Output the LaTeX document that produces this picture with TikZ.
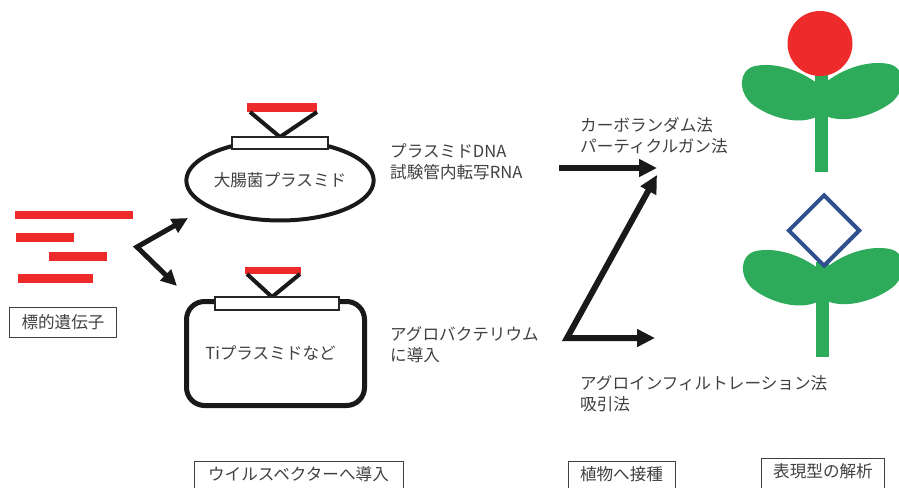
\documentclass[tikz,border=0pt]{standalone}
\usepackage{fontspec}
\setmainfont{Noto Sans CJK JP}
\usetikzlibrary{arrows.meta,shapes.geometric}

\definecolor{insertred}{HTML}{EE2B2B}
\definecolor{leafgreen}{HTML}{2EAB5A}
\definecolor{markblue}{HTML}{2F4F8F}
\definecolor{inktext}{HTML}{404040}

\tikzset{
  every node/.style={font=\fontsize{16.6}{21}\selectfont, text=inktext},
  genebar/.style={fill=insertred, draw=none, inner sep=0pt, outer sep=0pt},
  mcsbox/.style={fill=white, draw=black!85, line width=1.2pt, inner sep=0pt, outer sep=0pt},
  hinge/.style={draw=black!90, line width=4pt, line join=miter},
  stagebox/.style={draw=black!75, line width=0.8pt, inner xsep=12pt, inner ysep=4pt,
    text height=15pt, text depth=16pt, anchor=north},
  labeltext/.style={anchor=west, inner sep=0pt, align=left},
  fork/.style={draw=black!90, line join=miter,
    {Triangle[length=16pt,width=15pt]}-{Triangle[length=16pt,width=15pt]}},
  bigarrow/.style={draw=black!90, line width=6pt, line join=miter,
    -{Triangle[length=18pt,width=17pt]}},
  stem/.style={fill=leafgreen, draw=none},
  leaf/.style={fill=leafgreen, draw=none}
}

\begin{document}
\begin{tikzpicture}[x=1pt, y=-1pt]
  \useasboundingbox (0,0) rectangle (899,487);
  \clip (0,0) rectangle (899,487);

  % target gene fragments
  \node[genebar, minimum width=118pt, minimum height=8pt] (g1) at (74,215) {};
  \node[genebar, minimum width=58pt, minimum height=9pt] (g2) at (45,237.5) {};
  \node[genebar, minimum width=58pt, minimum height=9pt] (g3) at (78,256.5) {};
  \node[genebar, minimum width=75pt, minimum height=9pt] (g4) at (55.5,278.5) {};
  \node[draw=black!75, line width=0.8pt, inner xsep=12pt, inner ysep=7.5pt,
        minimum width=106pt] (gene) at (63,322.5) {標的遺伝子};

  % fork towards the two vectors
  \coordinate (split) at (137,247);
  \coordinate (toEcoli) at (188,218);
  \coordinate (toTi) at (177,286);
  \draw[fork, line width=5pt] (toTi) -- (split) -- (toEcoli);

  % E. coli plasmid with cloning site and insert
  \node[ellipse, draw=black!90, line width=4pt, minimum width=166pt, minimum height=80pt,
        inner sep=0pt] (ecoli) at (280,180.5) {大腸菌プラスミド};
  \node[genebar, minimum width=70pt, minimum height=9pt] (ins1) at (282,107.5) {};
  \node[mcsbox, minimum width=96pt, minimum height=12pt] (mcs1) at (280,143) {};
  \draw[hinge] ([xshift=3pt]ins1.south west) -- (mcs1.north) -- (ins1.south east);
  \node[mcsbox, minimum width=96pt, minimum height=12pt] at (mcs1) {};

  % Ti plasmid with cloning site and insert
  \node[rectangle, rounded corners=18pt, draw=black!90, line width=5pt,
        minimum width=178pt, minimum height=104pt, inner sep=0pt] (ti) at (275.5,353.5)
        {\hspace*{-10pt}Tiプラスミドなど};
  \node[genebar, minimum width=56pt, minimum height=7pt] (ins2) at (273,270.5) {};
  \node[mcsbox, minimum width=124pt, minimum height=13pt] (mcs2) at (277,303.5) {};
  \draw[hinge] ([xshift=2pt]ins2.south west) -- ([xshift=-5pt]mcs2.north) -- ([xshift=-1pt]ins2.south east);
  \node[mcsbox, minimum width=124pt, minimum height=13pt] at (mcs2) {};

  % delivery routes
  \node[labeltext] (viaDNA) at (390,162) {プラスミドDNA\\試験管内転写RNA};
  \node[labeltext] (viaAgro) at (390,345) {アグロバクテリウム\\に導入};

  \coordinate (dnaStart) at (559,168);
  \coordinate (rubTip) at (657,168);
  \coordinate (agroCorner) at (567,338);
  \coordinate (rubTip2) at (657,175);
  \coordinate (infTip) at (655,338);
  \draw[bigarrow] (dnaStart) -- (rubTip);
  \draw[bigarrow, {Triangle[length=18pt,width=17pt]}-{Triangle[length=18pt,width=17pt]}]
    (rubTip2) -- (agroCorner) -- (infTip);

  \node[labeltext] (rubMethods) at (580,136) {カーボランダム法\\パーティクルガン法};
  \node[labeltext] (infMethods) at (580,394) {アグロインフィルトレーション法\\吸引法};

  % plant with the red flower
  \fill[leaf] (818,84) .. controls (800,70) and (775,62) .. (755,66)
    .. controls (738,70) and (738,92) .. (752,104)
    .. controls (770,118) and (800,126) .. (818,116) -- cycle;
  \fill[leaf] (826,82) .. controls (844,68) and (869,60) .. (889,64)
    .. controls (906,68) and (906,90) .. (892,102)
    .. controls (874,116) and (844,124) .. (826,116) -- cycle;
  \fill[stem] (815,70) rectangle (828,172);
  \node[circle, fill=insertred, draw=none, minimum size=65pt, inner sep=0pt] (redFlower) at (820,43.5) {};

  % plant with the blue diamond
  \fill[leaf] (819,269) .. controls (801,255) and (776,247) .. (756,251)
    .. controls (739,255) and (739,277) .. (753,289)
    .. controls (771,303) and (801,311) .. (819,301) -- cycle;
  \fill[leaf] (827,267) .. controls (845,253) and (870,245) .. (890,249)
    .. controls (907,253) and (907,275) .. (893,287)
    .. controls (875,301) and (845,309) .. (827,301) -- cycle;
  \fill[stem] (816,262) rectangle (829,357);
  \node[diamond, aspect=1, fill=white, draw=markblue, line width=4pt,
        minimum width=72pt, minimum height=72pt, inner sep=0pt] (blueMark) at (824,230.5) {};

  % stages along the bottom
  \node[stagebox, minimum width=209pt] (stageVector) at (298.5,461) {ウイルスベクターへ導入};
  \node[stagebox, minimum width=107pt] (stageInoc) at (621.5,461) {植物へ接種};
  \node[stagebox, minimum width=122pt] (stagePheno) at (823,458) {表現型の解析};
\end{tikzpicture}
\end{document}
